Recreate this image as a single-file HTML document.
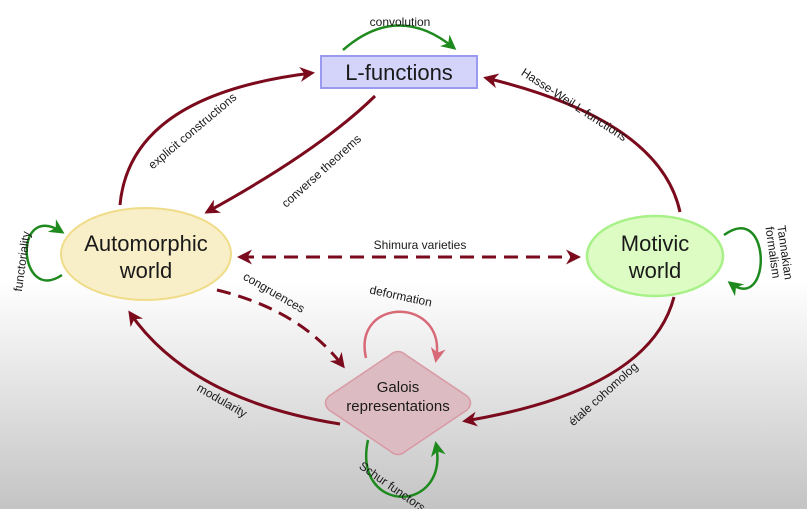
<!DOCTYPE html>
<html><head><meta charset="utf-8"><style>
html,body{margin:0;padding:0;width:807px;height:509px;overflow:hidden}
svg{display:block}
text{font-family:"Liberation Sans","DejaVu Sans",sans-serif;fill:#1a1a1a}
</style></head><body>
<svg width="807" height="509" viewBox="0 0 807 509" xmlns="http://www.w3.org/2000/svg">
<defs>
<linearGradient id="bg" x1="0" y1="0" x2="0" y2="1">
<stop offset="0" stop-color="#ffffff"/><stop offset="0.55" stop-color="#ffffff"/><stop offset="1" stop-color="#c4c4c4"/>
</linearGradient>
<marker id="ar" viewBox="0 0 10 10" refX="8" refY="5" markerWidth="5" markerHeight="5" orient="auto-start-reverse"><path d="M0,0 L10,5 L0,10 L3,5 z" fill="#7a0a1c"/></marker>
<marker id="ag" viewBox="0 0 10 10" refX="8" refY="5" markerWidth="6" markerHeight="6" orient="auto"><path d="M0,0 L10,5 L0,10 L3,5 z" fill="#1e8a1e"/></marker>
<marker id="ap" viewBox="0 0 10 10" refX="8" refY="5" markerWidth="6" markerHeight="6" orient="auto"><path d="M0,0 L10,5 L0,10 L3,5 z" fill="#d86a78"/></marker>
</defs>
<rect width="807" height="509" fill="url(#bg)"/>

<g fill="none" stroke="#7a0a1c" stroke-width="3">
<path d="M120 205 Q130 95 312 73" marker-end="url(#ar)"/>
<path d="M375 96 Q320 150 207 212" marker-end="url(#ar)"/>
<path d="M680 212 Q660 120 486 78" marker-end="url(#ar)"/>
<path d="M240 257 L578 257" stroke-dasharray="14 8" marker-start="url(#ar)" marker-end="url(#ar)"/>
<path d="M217 290 Q300 310 343 366" stroke-dasharray="14 8" marker-end="url(#ar)"/>
<path d="M340 424 Q190 400 130 313" marker-end="url(#ar)"/>
<path d="M674 297 Q650 390 465 421" marker-end="url(#ar)"/>
</g>
<g fill="none" stroke="#1e8a1e" stroke-width="2.5">
<path d="M343 50 Q398 2 454 48" marker-end="url(#ag)"/>
<path d="M62 275 C18 305 12 200 62 232" marker-end="url(#ag)"/>
<path d="M724 235 C772 200 772 315 730 283" marker-end="url(#ag)"/>
<path d="M368 440 C352 515 450 515 436 444" marker-end="url(#ag)"/>
</g>
<path d="M366 358 C352 296 448 296 436 360" fill="none" stroke="#d86a78" stroke-width="2.5" marker-end="url(#ap)"/>

<rect x="321" y="56" width="156" height="32" fill="#d4d4fb" stroke="#9a9af0" stroke-width="2"/>
<text x="399" y="80" font-size="22" text-anchor="middle">L-functions</text>

<ellipse cx="146" cy="254" rx="85" ry="46" fill="#f8efc8" stroke="#f0dc88" stroke-width="2"/>
<text x="146" y="251" font-size="22" text-anchor="middle">Automorphic</text>
<text x="146" y="278" font-size="22" text-anchor="middle">world</text>

<ellipse cx="655" cy="256" rx="68" ry="40" fill="#dcfcc4" stroke="#a8f088" stroke-width="2.5"/>
<text x="655" y="251" font-size="22" text-anchor="middle">Motivic</text>
<text x="655" y="278" font-size="22" text-anchor="middle">world</text>

<path d="M390 355 Q398 348 406 355 L467 396 Q474 403 467 410 L406 451 Q398 458 390 451 L329 410 Q322 403 329 396 Z" fill="#dcbcc2" stroke="#d89aa4" stroke-width="1.5"/>
<text x="398" y="392" font-size="15" text-anchor="middle">Galois</text>
<text x="398" y="411" font-size="15" text-anchor="middle">representations</text>

<g font-size="12">
<text x="400" y="26" text-anchor="middle">convolution</text>
<text transform="translate(195,134) rotate(-40)" text-anchor="middle">explicit constructions</text>
<text transform="translate(324,174) rotate(-42)" text-anchor="middle">converse theorems</text>
<text transform="translate(572,108) rotate(33)" text-anchor="middle">Hasse-Weil L-functions</text>
<text x="420" y="249" text-anchor="middle">Shimura varieties</text>
<text transform="translate(272,296) rotate(30)" text-anchor="middle">congruences</text>
<text transform="translate(400,300) rotate(12)" text-anchor="middle">deformation</text>
<text transform="translate(220,404) rotate(30)" text-anchor="middle">modularity</text>
<text transform="translate(606,397) rotate(-42)" text-anchor="middle">étale cohomolog</text>
<text transform="translate(390,490) rotate(35)" text-anchor="middle">Schur functors</text>
<text transform="translate(26,262) rotate(-82)" text-anchor="middle">functoriality</text>
<text transform="translate(781,253) rotate(82)" text-anchor="middle">Tannakian</text>
<text transform="translate(769,253) rotate(82)" text-anchor="middle">formalism</text>
</g>
</svg>
</body></html>
